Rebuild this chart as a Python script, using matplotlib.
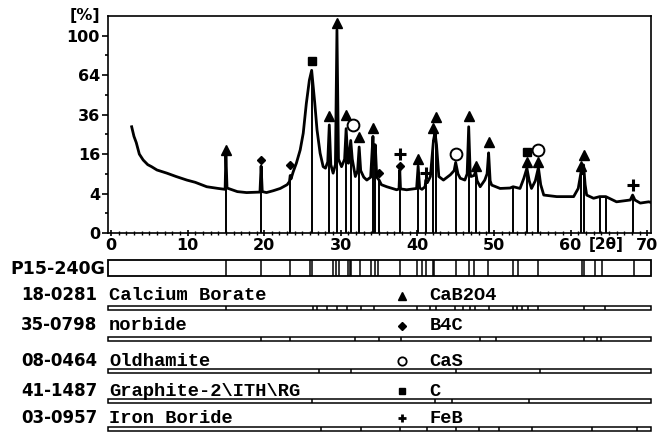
import numpy as np
import matplotlib
matplotlib.use('Agg')
import matplotlib.pyplot as plt
from matplotlib.patches import Rectangle
from matplotlib.transforms import blended_transform_factory

plt.rcParams.update({'font.family': 'DejaVu Sans', 'font.weight': 'bold',
                     'axes.linewidth': 1.2})

# measured pattern (2theta, relative intensity %)
two_theta = [2.7, 3.0, 3.3, 3.7, 4.2, 4.8, 5.3, 6.0, 7.3, 8.5, 9.9, 11.0, 12.5, 14.0, 14.9,
             15.0, 15.15, 16.5, 17.7, 19.45, 19.6, 19.75, 20.3, 21.2, 22.1, 23.0, 23.3, 23.4,
             23.5, 23.8, 24.2, 24.7, 25.1, 25.5, 25.9, 26.2, 26.6, 26.9, 27.3, 27.7, 28.0,
             28.3, 28.5, 28.7, 29.0, 29.3, 29.5, 29.7, 30.1, 30.5, 30.7, 30.9, 31.0, 31.3,
             31.5, 31.9, 32.2, 32.4, 32.6, 33.0, 33.4, 33.9, 34.2, 34.35, 34.5, 34.7, 35.0,
             35.3, 36.0, 37.3, 37.6, 37.7, 37.8, 38.6, 39.9, 40.1, 40.3, 40.6, 41.0, 41.1,
             41.3, 41.7, 42.1, 42.3, 42.5, 42.8, 43.4, 44.3, 44.8, 45.0, 45.3, 45.6, 46.2,
             46.5, 46.7, 46.9, 47.0, 47.4, 47.6, 47.8, 48.2, 48.8, 49.1, 49.3, 49.5, 49.7,
             50.8, 52.1, 52.5, 53.4, 53.9, 54.3, 54.6, 54.9, 55.4, 55.8, 56.1, 56.5, 58.2,
             60.4, 61.0, 61.4, 61.55, 61.7, 61.9, 62.1, 63.0, 63.8, 64.6, 66.0, 67.8, 68.1,
             68.4, 69.1, 70.2, 70.5]
intensity = [29, 24, 21, 16, 13.7, 12, 11.3, 10.2, 9.2, 8.2, 7.2, 6.6, 5.5, 5.1, 4.9,
             16, 5.2, 4.4, 4.2, 4.3, 11.5, 4.4, 4.2, 4.6, 5.1, 6.0, 6.8, 8.5,
             7.5, 9.7, 12.5, 17.7, 25.6, 43, 60, 68, 43.6, 27.3, 16.4, 11.3, 10.8,
             13, 30, 12, 9.2, 12, 106, 14, 11.3, 14, 28, 15, 12.5, 22,
             14, 8.2, 10, 19, 10, 8, 7.2, 8, 24, 12, 20, 8, 7.2,
             6, 5.5, 4.8, 5, 10.2, 5, 4.8, 5.1, 11.5, 5.2, 4.9, 5.5, 7.2,
             6.5, 8.2, 22, 26, 20, 8.2, 7.2, 8.7, 10, 12.8, 9, 7.7, 7.2,
             9, 29, 9, 8.2, 8.5, 9.7, 7, 5.5, 7.2, 9, 16.5, 7, 5.9,
             5.1, 5.2, 5.5, 5.1, 7.7, 10.8, 7, 5.1, 7, 11, 6, 3.7, 3.4,
             3.4, 5.1, 10, 9, 11.9, 6, 3.7, 3.1, 3.4, 3.4, 2.5, 2.8, 3.7,
             2.8, 2.3, 2.5, 2.4]

# peak list of the sample (sticks)
peak_pos = [15.0, 19.6, 23.4, 26.3, 28.5, 29.5, 30.7, 31.3, 32.4, 34.2, 34.5, 35.0, 37.7,
            40.1, 41.1, 42.1, 42.4, 45.0, 46.7, 47.6, 49.3, 52.5, 54.3, 55.8, 61.4, 61.7,
            63.8, 64.6, 68.1]
peak_int = [16, 11.5, 8.5, 68, 30, 106, 28, 22, 19, 24, 20, 7.2, 10.2,
            11.5, 7.2, 22, 26, 12.8, 29, 9.7, 16.5, 5.5, 10.8, 11, 10, 11.9,
            3.4, 3.4, 3.7]

# sample strip (P15-240G)
strip_pos = [15.0, 19.6, 23.4, 26.0, 26.3, 29.0, 29.4, 29.8, 31.0, 31.15, 31.3, 32.5, 34.0,
             34.5, 34.8, 37.7, 40.0, 40.6, 41.1, 42.0, 42.2, 45.05, 46.7, 47.4, 49.2, 52.5,
             53.1, 55.7, 61.5, 61.8, 63.2, 64.1, 68.3]

# identified phases
phase_ids = ['18-0281', '35-0798', '08-0464', '41-1487', '03-0957']
phase_names = ['Calcium Borate', 'norbide', 'Oldhamite', 'Graphite-2\\ITH\\RG', 'Iron Boride']
phase_formulas = ['CaB2O4', 'B4C', 'CaS', 'C', 'FeB']
phase_lines = [
    [15.0, 26.4, 26.9, 28.2, 29.5, 30.8, 32.7, 34.3, 40.0, 41.6, 42.4, 44.9, 46.0, 46.9,
     47.5, 49.3, 52.5, 53.0, 53.6, 54.5, 55.8, 61.7, 64.5],
    [19.6, 23.4, 31.9, 35.0, 37.9, 48.2, 50.2, 61.8, 63.5, 64.0],
    [27.1, 31.3, 45.0, 56.0],
    [26.3, 42.3, 44.5, 54.6],
    [27.4, 32.7, 37.7, 41.2, 45.1, 48.0, 50.6, 55.0, 62.8, 68.7],
]

# phase markers above peaks
tri_x = [15.0, 28.5, 29.5, 30.7, 32.4, 34.2, 40.1, 42.1, 42.4, 46.7, 47.6, 49.3, 54.3, 55.8, 61.4, 61.7]
tri_y = [17.7, 35.3, 113, 35.9, 23.6, 28.6, 14.0, 28.2, 34.5, 34.9, 11.6, 21.5, 13.1, 13.1, 11.6, 15.7]
dia_x = [19.6, 23.4, 35.0, 37.7]
dia_y = [13.7, 11.9, 9.4, 11.7]
circ_x = [31.6, 45.05, 55.8]
circ_y = [30.1, 16.1, 17.5]
sq_x = [26.3, 54.3]
sq_y = [75.6, 17.0]
plus_x = [37.7, 41.1, 68.1]
plus_y = [16.1, 9.4, 5.9]

W, H = 665, 433
fig = plt.figure(figsize=(W / 100, H / 100), dpi=100)
x0, x1 = 108.3 / W, 651 / W
ax = fig.add_axes([x0, 1 - 233 / H, x1 - x0, 217 / H])

ax.set_yscale('function', functions=(lambda v: np.sqrt(np.clip(v, 0, None)), lambda v: np.square(v)))
ax.plot(two_theta, intensity, color='k', lw=2.0)
ax.vlines(peak_pos, 0, peak_int, color='k', lw=1.4)

ax.plot(tri_x, tri_y, ls='none', marker='^', ms=7.5, color='k')
ax.plot(dia_x, dia_y, ls='none', marker='D', ms=4.5, color='k')
ax.plot(circ_x, circ_y, ls='none', marker='o', ms=8.5, mfc='white', mec='k', mew=1.4)
ax.plot(sq_x, sq_y, ls='none', marker='s', ms=6, color='k')
ax.plot(plus_x, plus_y, ls='none', marker='+', ms=8, mew=2.2, color='k')

ax.set_xlim(-0.35, 70.5)
ax.set_ylim(0, 121)
ax.set_yticks([0, 4, 16, 36, 64, 100])
ax.set_yticks([1, 9, 25, 49, 81], minor=True)
ax.set_xticks(range(0, 71, 10))
ax.set_xticks(range(0, 71, 1), minor=True)
ax.tick_params(axis='y', which='major', direction='out', length=4, width=1.2, pad=2, labelsize=11.5)
ax.tick_params(axis='y', which='minor', direction='out', length=2.5, width=1.2)
ax.tick_params(axis='x', which='major', direction='inout', length=5, width=1.2, pad=1, labelsize=11.5)
ax.tick_params(axis='x', which='minor', direction='inout', length=3, width=1.0)
ax.text(-0.015, 1.0, '[%]', transform=ax.transAxes, ha='right', va='center', fontsize=11.5)
ax.text(64.7, -0.052, '[2θ]', transform=blended_transform_factory(ax.transData, ax.transAxes),
        ha='center', va='center', fontsize=11)

# reference strips below the pattern, y in image pixels
ax2 = fig.add_axes([x0, 0, x1 - x0, 200 / H])
ax2.set_xlim(ax.get_xlim())
ax2.set_ylim(H, 233)
ax2.axis('off')
xa, xb = ax.get_xlim()
lab_tr = blended_transform_factory(fig.transFigure, ax2.transData)

ax2.add_patch(Rectangle((xa, 260.3), xb - xa, 15.7, fill=False, lw=1.3, ec='k', clip_on=False))
ax2.vlines(strip_pos, 260.3, 276, color='k', lw=1.1)
ax2.text(105 / W, 268.5, 'P15-240G', transform=lab_tr, ha='right', va='center', fontsize=12.5)

strip_top = [306, 337.3, 369.3, 399.3, 426.8]
text_base = [300.5, 330.5, 366, 395.5, 423.3]
sym_style = [dict(marker='^', ms=6, color='k'),
             dict(marker='D', ms=3.8, color='k'),
             dict(marker='o', ms=6, mfc='white', mec='k', mew=1.3),
             dict(marker='s', ms=5, color='k'),
             dict(marker='+', ms=6, mew=2, color='k')]
for pid, name, form, lines, top, base, st in zip(phase_ids, phase_names, phase_formulas,
                                                  phase_lines, strip_top, text_base, sym_style):
    ax2.add_patch(Rectangle((xa, top), xb - xa, 4, fill=False, lw=1.1, ec='k', clip_on=False))
    ax2.vlines(lines, top, top + 4, color='k', lw=1.1)
    ax2.text(97 / W, base, pid, transform=lab_tr, ha='right', va='baseline', fontsize=12)
    ax2.text(xa + 0.1, base, name, ha='left', va='baseline', fontsize=13.5,
             family='Liberation Mono', fontweight='bold')
    ax2.plot([38.0], [base - 5], ls='none', clip_on=False, **st)
    ax2.text(41.6, base, form, ha='left', va='baseline', fontsize=13.5,
             family='Liberation Mono', fontweight='bold')

fig.savefig('out.png', dpi=100)
